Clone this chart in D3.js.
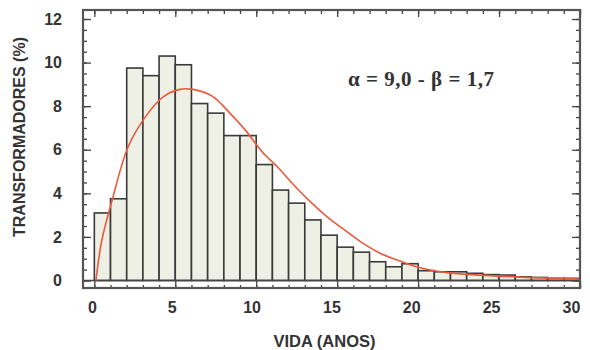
<!DOCTYPE html>
<html>
<head>
<meta charset="utf-8">
<script src="https://cdn.jsdelivr.net/npm/d3@7"></script>
<style>
  body { margin: 0; background: #fff; }
  svg { display: block; }
  text { font-family: "Liberation Sans", Arial, sans-serif; font-weight: bold; fill: #333; }
</style>
</head>
<body>
<div id="container"></div>
<script>
/* global d3*/

const width = 590;
const height = 350;

// histogram: % of transformers per 1-year bin (0-1, 1-2, ... 29-30)
const binStart = d3.range(0, 30);
const percent = [3.1, 3.75, 9.75, 9.4, 10.3, 9.9, 8.12, 7.68, 6.65, 6.65,
  5.32, 4.15, 3.55, 2.78, 2.08, 1.53, 1.3, 0.86, 0.63, 0.77,
  0.45, 0.4, 0.4, 0.33, 0.27, 0.25, 0.17, 0.14, 0.1, 0.1];

// fitted curve
const curveX = [0.1, 0.45, 1.07, 2.09, 3.23, 4.25, 5.28, 6.1, 7.3, 8.3, 9.33, 10.36,
  11.39, 12.42, 13.45, 14.5, 15.6, 16.6, 17.65, 18.7, 19.7, 20.74, 21.77, 23, 25, 27.5, 30];
const curveY = [0, 1.8, 3.6, 6.14, 7.59, 8.43, 8.77, 8.77, 8.45, 7.74, 6.9, 5.91,
  5.15, 4.3, 3.54, 2.85, 2.24, 1.7, 1.25, 0.94, 0.68, 0.48, 0.36, 0.28, 0.2, 0.12, 0.07];

const xTicks = [0, 5, 10, 15, 20, 25, 30];
const yTicks = [0, 2, 4, 6, 8, 10, 12];

const frame = { left: 83, right: 580, top: 10, bottom: 288 };

const svg = d3
  .select("#container")
  .append("svg")
  .attr("width", width)
  .attr("height", height);

const xScale = d3.scaleLinear([-0.7, 30], [frame.left, frame.right]);
const yScale = d3.scaleLinear([0, 12], [280.5, 19]);

// bars
svg
  .selectAll("rect.bar")
  .data(binStart)
  .enter()
  .append("rect")
  .attr("class", "bar")
  .attr("x", (d) => xScale(d))
  .attr("y", (d, i) => yScale(percent[i]))
  .attr("width", (d) => xScale(d + 1) - xScale(d))
  .attr("height", (d, i) => yScale(0) - yScale(percent[i]))
  .attr("fill", "#eeefe5")
  .attr("stroke", "#3a3a3a")
  .attr("stroke-width", 1.6);

// zero line across the frame
svg
  .append("line")
  .attr("x1", frame.left)
  .attr("x2", frame.right)
  .attr("y1", yScale(0))
  .attr("y2", yScale(0))
  .attr("stroke", "#444")
  .attr("stroke-width", 1.4);

// curve
const line = d3
  .line()
  .x((d, i) => xScale(curveX[i]))
  .y((d) => yScale(d))
  .curve(d3.curveCatmullRom);

svg
  .append("path")
  .attr("d", line(curveY))
  .attr("fill", "none")
  .attr("stroke", "#ec5a3c")
  .attr("stroke-width", 1.6);

// inward ticks on every side of the frame
const styleAxis = (g) => {
  g.select(".domain").remove();
  g.selectAll(".tick line").attr("stroke", "#444").attr("stroke-width", 1.3);
};

const minorX = d3.range(0, 31);
const minorY = d3.range(0, 12.01, 0.5);

// bottom
svg.append("g")
  .attr("transform", `translate(0,${frame.bottom})`)
  .call(d3.axisBottom(xScale).tickValues(minorX).tickSize(-3).tickFormat(""))
  .call(styleAxis);
svg.append("g")
  .attr("transform", `translate(0,${frame.bottom})`)
  .call(d3.axisBottom(xScale).tickValues(xTicks).tickSize(-7).tickPadding(14))
  .call(styleAxis)
  .call((g) =>
    g.selectAll("text")
      .style("font-size", "16px")
      .style("fill", "#333")
      .attr("dx", (d) => -(2.5 + d * 0.22))
  );

// top
svg.append("g")
  .attr("transform", `translate(0,${frame.top})`)
  .call(d3.axisTop(xScale).tickValues(minorX).tickSize(-4).tickFormat(""))
  .call(styleAxis);
svg.append("g")
  .attr("transform", `translate(0,${frame.top})`)
  .call(d3.axisTop(xScale).tickValues(xTicks).tickSize(-7).tickFormat(""))
  .call(styleAxis);

// left
svg.append("g")
  .attr("transform", `translate(${frame.left},0)`)
  .call(d3.axisLeft(yScale).tickValues(minorY).tickSize(-4).tickFormat(""))
  .call(styleAxis);
svg.append("g")
  .attr("transform", `translate(${frame.left},0)`)
  .call(d3.axisLeft(yScale).tickValues(yTicks).tickSize(-8).tickPadding(21))
  .call(styleAxis)
  .call((g) =>
    g.selectAll("text")
      .style("font-size", "16px")
      .style("fill", "#333")
  );

// right
svg.append("g")
  .attr("transform", `translate(${frame.right},0)`)
  .call(d3.axisRight(yScale).tickValues(minorY).tickSize(-4).tickFormat(""))
  .call(styleAxis);
svg.append("g")
  .attr("transform", `translate(${frame.right},0)`)
  .call(d3.axisRight(yScale).tickValues(yTicks).tickSize(-8).tickFormat(""))
  .call(styleAxis);

// frame
svg
  .append("rect")
  .attr("x", frame.left)
  .attr("y", frame.top)
  .attr("width", frame.right - frame.left)
  .attr("height", frame.bottom - frame.top)
  .attr("fill", "none")
  .attr("stroke", "#555")
  .attr("stroke-width", 2.2);

// annotation
svg
  .append("text")
  .attr("x", 348)
  .attr("y", 86)
  .style("font-family", "'Liberation Serif', 'Times New Roman', serif")
  .style("font-size", "21px")
  .attr("textLength", 146)
  .attr("lengthAdjust", "spacing")
  .text("α = 9,0 - β = 1,7");

// axis titles
svg
  .append("text")
  .attr("x", (frame.left + frame.right) / 2 - 7)
  .attr("y", 347)
  .attr("text-anchor", "middle")
  .style("font-size", "16.5px")
  .text("VIDA (ANOS)");

svg
  .append("text")
  .attr("transform", "translate(25,137) rotate(-90)")
  .attr("text-anchor", "middle")
  .style("font-size", "16px")
  .text("TRANSFORMADORES (%)");
</script>
</body>
</html>
